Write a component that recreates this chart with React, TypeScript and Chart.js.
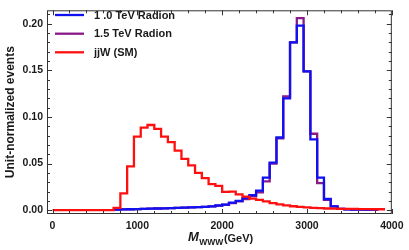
import React, { useEffect, useRef } from 'react';
import { Chart, registerables } from 'chart.js';

Chart.register(...registerables);

// 80 GeV bins from 0 to 3920 GeV (bin edges)
const binEdges = [
  0, 80, 160, 240, 320, 400, 480, 560, 640, 720, 800, 880, 960, 1040, 1120, 1200, 1280,
  1360, 1440, 1520, 1600, 1680, 1760, 1840, 1920, 2000, 2080, 2160, 2240, 2320, 2400,
  2480, 2560, 2640, 2720, 2800, 2880, 2960, 3040, 3120, 3200, 3280, 3360, 3440, 3520,
  3600, 3680, 3760, 3840, 3920,
];

const radion10: (number | null)[] = [
  null, null, null, null, null, null, null, null, null,
  0.0005, 0.0008, 0.001, 0.0012, 0.0014, 0.0016, 0.0018, 0.002, 0.0022, 0.0025, 0.0028,
  0.003, 0.0033, 0.0036, 0.004, 0.005, 0.006, 0.008, 0.010, 0.013, 0.016,
  0.021, 0.035, 0.051, 0.078, 0.120, 0.180, 0.198, 0.149, 0.076, 0.035,
  0.012, 0.004, 0.0015, 0.001, 0.0007, 0.0005, 0.0004, 0.0003, null,
];

const radion15: (number | null)[] = [
  null, null, null, null, null, null, null, null, null,
  0.0005, 0.0008, 0.001, 0.0012, 0.0014, 0.0016, 0.0018, 0.002, 0.0022, 0.0025, 0.0028,
  0.003, 0.0033, 0.0036, 0.004, 0.0048, 0.0058, 0.0075, 0.0095, 0.012, 0.015,
  0.019, 0.031, 0.050, 0.077, 0.122, 0.180, 0.206, 0.149, 0.082, 0.029,
  0.011, 0.004, 0.0015, 0.001, 0.0007, 0.0005, 0.0004, 0.0003, null,
];

const jjWSM: (number | null)[] = [
  0, 0, 0, 0, 0, 0, 0, 0, 0,
  0.0024, 0.018, 0.047, 0.079, 0.0887, 0.0914, 0.0873, 0.079, 0.073, 0.064, 0.055,
  0.048, 0.040, 0.0345, 0.028, 0.026, 0.0197, 0.020, 0.017, 0.0145, 0.0125,
  0.011, 0.0095, 0.0076, 0.0062, 0.0052, 0.0042, 0.0036, 0.003, 0.0025, 0.0021,
  0.0018, 0.0016, 0.0015, 0.0014, 0.0013, 0.0012, 0.0011, 0.001, 0.001,
];

const seriesLabels = ['1 .0 TeV Radion', '1.5 TeV Radion', 'jjW (SM)'];
const seriesColors = ['#1010f0', '#8a1a8a', '#ff1010'];

const xTickValues = [0, 1000, 2000, 3000, 4000];
const yTickValues = [0, 0.05, 0.1, 0.15, 0.2];
const xMinorStep = 200;
const yMinorStep = 0.01;

const FONT = "'Liberation Sans', Arial, sans-serif";
const TEXT = '#1a1a1a';
const FRAME = '#333333';

function toSteps(vals: (number | null)[]) {
  const pts: { x: number; y: number }[] = [];
  let last = -1;
  vals.forEach((v, i) => {
    if (v !== null) {
      pts.push({ x: binEdges[i], y: v });
      last = i;
    }
  });
  if (last >= 0) pts.push({ x: binEdges[last + 1], y: vals[last] as number });
  return pts;
}

const framePlugin = {
  id: 'mmaFrame',
  afterDraw(chart: any) {
    const { ctx, chartArea: a, scales } = chart;
    const xs = scales.x;
    const ys = scales.y;
    ctx.save();
    ctx.strokeStyle = FRAME;
    ctx.lineWidth = 1;
    ctx.strokeRect(a.left + 0.5, a.top + 0.5, a.right - a.left - 1, a.bottom - a.top - 1);
    ctx.beginPath();
    // x ticks bottom & top
    for (let v = 0; v <= xs.max + 1e-6; v += xMinorStep) {
      const px = Math.round(xs.getPixelForValue(v)) + 0.5;
      const major = v % 1000 === 0;
      const len = major ? 5 : 3;
      ctx.moveTo(px, a.bottom);
      ctx.lineTo(px, a.bottom - len);
      ctx.moveTo(px, a.top);
      ctx.lineTo(px, a.top + len);
    }
    for (let i = 0; i * yMinorStep <= ys.max + 1e-9; i++) {
      const v = i * yMinorStep;
      const py = Math.round(ys.getPixelForValue(v)) + 0.5;
      const major = i % 5 === 0;
      const len = major ? 5 : 3;
      ctx.moveTo(a.left, py);
      ctx.lineTo(a.left + len, py);
      ctx.moveTo(a.right, py);
      ctx.lineTo(a.right - len, py);
    }
    ctx.stroke();

    // legend
    const rows = [15, 33.7, 52.3];
    ctx.lineWidth = 2.3;
    ctx.textBaseline = 'middle';
    ctx.textAlign = 'left';
    ctx.font = `bold 11px ${FONT}`;
    rows.forEach((ry, i) => {
      ctx.strokeStyle = seriesColors[i];
      ctx.beginPath();
      ctx.moveTo(55, ry);
      ctx.lineTo(84, ry);
      ctx.stroke();
      ctx.fillStyle = TEXT;
      ctx.fillText(seriesLabels[i], 94, ry + 0.5);
    });

    // x-axis title: M_WWW (GeV)
    ctx.textBaseline = 'alphabetic';
    ctx.fillStyle = TEXT;
    let cx = 188;
    ctx.font = `italic bold 13px ${FONT}`;
    ctx.fillText('M', cx, 241);
    cx += ctx.measureText('M').width + 0.5;
    ctx.font = `bold 8.5px ${FONT}`;
    ctx.fillText('WWW', cx, 244.5);
    cx += ctx.measureText('WWW').width + 0.5;
    ctx.font = `bold 11px ${FONT}`;
    ctx.fillText('(GeV)', cx, 241.5);
    ctx.restore();
  },
};

export default function App() {
  const ref = useRef<HTMLCanvasElement | null>(null);
  useEffect(() => {
    if (!ref.current) return;
    const chart = new Chart(ref.current, {
      type: 'line',
      data: {
        datasets: [
          {
            label: seriesLabels[0],
            data: toSteps(radion10),
            borderColor: seriesColors[0],
            borderWidth: 2.3,
            stepped: true,
            pointRadius: 0,
            fill: false,
            order: 1,
          },
          {
            label: seriesLabels[1],
            data: toSteps(radion15),
            borderColor: seriesColors[1],
            borderWidth: 2.3,
            stepped: true,
            pointRadius: 0,
            fill: false,
            order: 2,
          },
          {
            label: seriesLabels[2],
            data: toSteps(jjWSM),
            borderColor: seriesColors[2],
            borderWidth: 2.3,
            stepped: true,
            pointRadius: 0,
            fill: false,
            order: 0,
          },
        ],
      },
      options: {
        responsive: false,
        animation: false,
        devicePixelRatio: 1,
        layout: { padding: { top: 1, right: 16, left: 0, bottom: 0 } },
        plugins: { legend: { display: false }, tooltip: { enabled: false } },
        scales: {
          x: {
            type: 'linear',
            min: -65,
            max: 4000,
            afterBuildTicks: (s: any) => {
              s.ticks = xTickValues.map((v) => ({ value: v }));
            },
            afterFit: (s: any) => {
              s.height = 36;
            },
            ticks: {
              font: { family: FONT, weight: 'bold', size: 10.5 },
              color: TEXT,
              padding: 5.5,
              maxRotation: 0,
              autoSkip: false,
              callback: (v: any) => String(v),
            },
            grid: { display: false, drawTicks: false },
            border: { display: false },
          },
          y: {
            type: 'linear',
            min: -0.0041,
            max: 0.2145,
            afterBuildTicks: (s: any) => {
              s.ticks = yTickValues.map((v) => ({ value: v }));
            },
            afterFit: (s: any) => {
              s.width = 47;
            },
            ticks: {
              font: { family: FONT, weight: 'bold', size: 10.5 },
              color: TEXT,
              padding: 4,
              autoSkip: false,
              callback: (v: any) => Number(v).toFixed(2),
            },
            title: {
              display: true,
              text: 'Unit-normalized events',
              font: { family: FONT, weight: 'bold', size: 12 },
              color: TEXT,
              padding: { top: 3, bottom: 0 },
            },
            grid: { display: false, drawTicks: false },
            border: { display: false },
          },
        },
      },
      plugins: [framePlugin],
    } as any);
    return () => chart.destroy();
  }, []);
  return (
    <div style={{ position: 'absolute', left: 0, top: 0, width: 409, height: 250, background: '#fff' }}>
      <canvas ref={ref} width={409} height={250} style={{ display: 'block' }} />
    </div>
  );
}
